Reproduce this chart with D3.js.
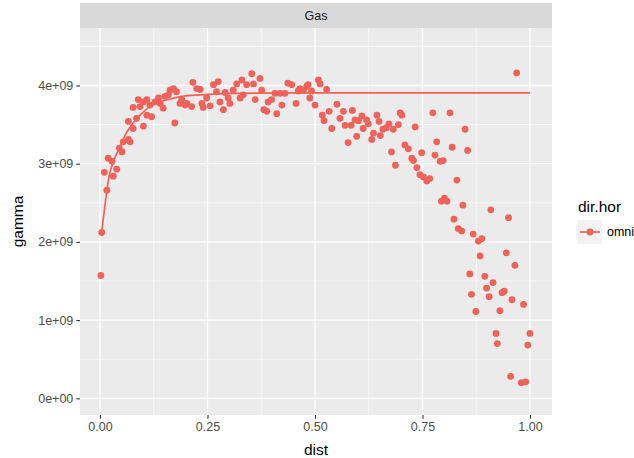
<!DOCTYPE html>
<html>
<head>
<meta charset="utf-8">
<script src="https://cdn.jsdelivr.net/npm/d3@7"></script>
<style>
  html, body { margin: 0; padding: 0; background: #ffffff; }
  svg { display: block; font-family: "Liberation Sans", Arial, Helvetica, sans-serif; }
</style>
</head>
<body>
<svg id="chart" width="634" height="458"></svg>
<script>
// Sample variogram of the "Gas" field: lag distance vs semivariance (gamma, in units of 1e9)
const dist = [
  0.002, 0.004, 0.010, 0.016, 0.019, 0.028, 0.031, 0.039, 0.045, 0.051,
  0.054, 0.066, 0.066, 0.070, 0.077, 0.077, 0.085, 0.089, 0.093, 0.101,
  0.101, 0.109, 0.109, 0.116, 0.120, 0.128, 0.136, 0.140, 0.147, 0.151,
  0.159, 0.163, 0.171, 0.174, 0.178, 0.186, 0.190, 0.198, 0.202, 0.213,
  0.216, 0.225, 0.233, 0.237, 0.240, 0.248, 0.256, 0.264, 0.271, 0.275,
  0.279, 0.287, 0.291, 0.298, 0.302, 0.310, 0.318, 0.326, 0.330, 0.333,
  0.341, 0.353, 0.357, 0.361, 0.372, 0.376, 0.381, 0.388, 0.391, 0.399,
  0.407, 0.411, 0.419, 0.423, 0.430, 0.437, 0.446, 0.456, 0.461, 0.465,
  0.473, 0.481, 0.484, 0.488, 0.492, 0.500, 0.508, 0.512, 0.517, 0.521,
  0.527, 0.533, 0.539, 0.551, 0.558, 0.566, 0.570, 0.577, 0.584, 0.587,
  0.593, 0.597, 0.601, 0.609, 0.612, 0.620, 0.624, 0.632, 0.636, 0.644,
  0.649, 0.652, 0.658, 0.666, 0.672, 0.678, 0.682, 0.687, 0.694, 0.698,
  0.702, 0.709, 0.717, 0.725, 0.729, 0.733, 0.737, 0.744, 0.748, 0.752,
  0.760, 0.767, 0.774, 0.779, 0.783, 0.791, 0.794, 0.798, 0.801, 0.807,
  0.814, 0.819, 0.823, 0.830, 0.833, 0.841, 0.844, 0.849, 0.855, 0.860,
  0.864, 0.868, 0.874, 0.880, 0.884, 0.888, 0.895, 0.899, 0.905, 0.909,
  0.914, 0.921, 0.924, 0.930, 0.935, 0.940, 0.945, 0.950, 0.955, 0.958,
  0.965, 0.969, 0.980, 0.985, 0.990, 0.995, 1.000
];
const gamma = [
  1.57, 2.12, 2.89, 2.66, 3.07, 3.03, 2.84, 2.93, 3.20, 3.15,
  3.28, 3.31, 3.54, 3.28, 3.45, 3.72, 3.58, 3.82, 3.73, 3.48,
  3.79, 3.82, 3.62, 3.75, 3.60, 3.79, 3.84, 3.77, 3.71, 3.86,
  3.88, 3.94, 3.96, 3.52, 3.92, 3.77, 3.82, 3.75, 3.77, 3.73,
  4.04, 3.96, 3.95, 3.77, 3.72, 3.84, 3.74, 4.01, 3.92, 4.05,
  3.79, 3.69, 3.91, 3.84, 3.77, 3.94, 4.02, 3.84, 4.07, 3.88,
  4.01, 4.15, 4.02, 3.82, 4.09, 3.94, 3.69, 3.67, 3.79, 3.82,
  3.90, 3.64, 3.90, 3.75, 3.90, 4.03, 4.01, 3.77, 3.93, 3.96,
  3.94, 3.99, 4.01, 3.84, 3.93, 3.75, 4.07, 4.02, 3.62, 3.55,
  3.95, 3.67, 3.45, 3.76, 3.58, 3.67, 3.49, 3.27, 3.49, 3.68,
  3.56, 3.35, 3.55, 3.61, 3.45, 3.56, 3.51, 3.31, 3.39, 3.62,
  3.54, 3.36, 3.44, 3.46, 3.51, 3.15, 3.44, 2.98, 3.50, 3.65,
  3.62, 3.24, 3.19, 3.07, 3.04, 3.47, 2.95, 2.86, 3.14, 2.83,
  2.78, 2.81, 3.65, 3.11, 3.28, 3.03, 2.52, 3.04, 2.56, 2.52,
  3.65, 3.21, 2.29, 2.79, 2.17, 2.14, 2.47, 3.44, 3.17, 1.59,
  1.33, 2.10, 1.11, 2.01, 1.82, 2.04, 1.56, 1.41, 1.30, 2.41,
  1.48, 0.83, 0.70, 1.12, 1.35, 1.37, 1.86, 2.31, 0.28, 1.26,
  1.70, 4.16, 0.20, 1.20, 0.21, 0.68, 0.83
];

// Fitted variogram model curve (nugget + exponential-type rise to the sill)
const modelDist  = [0.004, 0.022, 0.035, 0.047, 0.060, 0.077, 0.095, 0.116, 0.135, 0.155, 0.190, 0.233, 0.310, 0.500, 1.000];
const modelGamma = [2.12, 2.86, 3.08, 3.22, 3.38, 3.52, 3.63, 3.73, 3.78, 3.815, 3.86, 3.88, 3.90, 3.905, 3.905];

const xTicks = [0, 0.25, 0.5, 0.75, 1.0];
const xTickLabels = ["0.00", "0.25", "0.50", "0.75", "1.00"];
const xMinor = [0.125, 0.375, 0.625, 0.875];
const yTicks = [0, 1, 2, 3, 4];
const yTickLabels = ["0e+00", "1e+09", "2e+09", "3e+09", "4e+09"];
const yMinor = [0.5, 1.5, 2.5, 3.5, 4.5];

const panelTitle = "Gas";
const xTitle = "dist";
const yTitle = "gamma";
const legendTitle = "dir.hor";
const legendLabel = "omni";

const col = "#F1625B";

const svg = d3.select("#chart");
const panel = { left: 80, right: 552, top: 28, bottom: 415 };
const strip = { top: 3, bottom: 28 };

const x = d3.scaleLinear().domain([-0.0465, 1.0512]).range([panel.left, panel.right]);
const y = d3.scaleLinear().domain([-0.2136, 4.735]).range([panel.bottom, panel.top]);

// strip
svg.append("rect")
  .attr("x", panel.left).attr("y", strip.top)
  .attr("width", panel.right - panel.left).attr("height", strip.bottom - strip.top)
  .attr("fill", "#D9D9D9");
svg.append("text")
  .attr("x", (panel.left + panel.right) / 2).attr("y", (strip.top + strip.bottom) / 2)
  .attr("text-anchor", "middle").attr("dominant-baseline", "central")
  .attr("font-size", 12.5).attr("fill", "#1A1A1A")
  .text(panelTitle);

// panel background
svg.append("rect")
  .attr("x", panel.left).attr("y", panel.top)
  .attr("width", panel.right - panel.left).attr("height", panel.bottom - panel.top)
  .attr("fill", "#EBEBEB");

const grid = svg.append("g");
grid.selectAll(".xminor").data(xMinor).enter().append("line")
  .attr("x1", d => x(d)).attr("x2", d => x(d))
  .attr("y1", panel.top).attr("y2", panel.bottom)
  .attr("stroke", "#FFFFFF").attr("stroke-width", 0.6);
grid.selectAll(".yminor").data(yMinor).enter().append("line")
  .attr("y1", d => y(d)).attr("y2", d => y(d))
  .attr("x1", panel.left).attr("x2", panel.right)
  .attr("stroke", "#FFFFFF").attr("stroke-width", 0.6);
grid.selectAll(".xmajor").data(xTicks).enter().append("line")
  .attr("x1", d => x(d)).attr("x2", d => x(d))
  .attr("y1", panel.top).attr("y2", panel.bottom)
  .attr("stroke", "#FFFFFF").attr("stroke-width", 1.3);
grid.selectAll(".ymajor").data(yTicks).enter().append("line")
  .attr("y1", d => y(d)).attr("y2", d => y(d))
  .attr("x1", panel.left).attr("x2", panel.right)
  .attr("stroke", "#FFFFFF").attr("stroke-width", 1.3);

// axes
const xAxis = d3.axisBottom(x).tickValues(xTicks)
  .tickFormat((d, i) => xTickLabels[i]).tickSize(3.7).tickPadding(3);
const gx = svg.append("g").attr("transform", `translate(0,${panel.bottom})`).call(xAxis);
gx.select(".domain").remove();
gx.selectAll("line").attr("stroke", "#333333").attr("stroke-width", 1.1);
gx.selectAll("text").attr("font-size", 12.5).attr("fill", "#4D4D4D")
  .attr("font-family", "'Liberation Sans', Arial, sans-serif");

const yAxis = d3.axisLeft(y).tickValues(yTicks)
  .tickFormat((d, i) => yTickLabels[i]).tickSize(3.7).tickPadding(3);
const gy = svg.append("g").attr("transform", `translate(${panel.left},0)`).call(yAxis);
gy.select(".domain").remove();
gy.selectAll("line").attr("stroke", "#333333").attr("stroke-width", 1.1);
gy.selectAll("text").attr("font-size", 12.5).attr("fill", "#4D4D4D")
  .attr("font-family", "'Liberation Sans', Arial, sans-serif");

// axis titles
svg.append("text")
  .attr("x", (panel.left + panel.right) / 2).attr("y", 449)
  .attr("text-anchor", "middle").attr("dominant-baseline", "central")
  .attr("font-size", 15.5).attr("fill", "#000000")
  .text(xTitle);
svg.append("text")
  .attr("transform", `translate(17,${(panel.top + panel.bottom) / 2}) rotate(-90)`)
  .attr("text-anchor", "middle").attr("dominant-baseline", "central")
  .attr("font-size", 15.5).attr("fill", "#000000")
  .text(yTitle);

// model line
const modelData = modelDist.map((d, i) => ({ d, g: modelGamma[i] }));
const line = d3.line().x(p => x(p.d)).y(p => y(p.g)).curve(d3.curveMonotoneX);
svg.append("path").datum(modelData)
  .attr("d", line).attr("fill", "none")
  .attr("stroke", col).attr("stroke-width", 1.7);

// sample points
const pts = dist.map((d, i) => ({ d, g: gamma[i] }));
svg.append("g").selectAll("circle").data(pts).enter().append("circle")
  .attr("cx", p => x(p.d)).attr("cy", p => y(p.g))
  .attr("r", 3.4).attr("fill", col);

// legend
const lg = svg.append("g");
lg.append("text")
  .attr("x", 578).attr("y", 206)
  .attr("dominant-baseline", "central")
  .attr("font-size", 15.5).attr("fill", "#000000")
  .text(legendTitle);
lg.append("rect")
  .attr("x", 578).attr("y", 220).attr("width", 24).attr("height", 24)
  .attr("fill", "#F2F2F2");
lg.append("line")
  .attr("x1", 580).attr("x2", 600).attr("y1", 232).attr("y2", 232)
  .attr("stroke", col).attr("stroke-width", 1.7);
lg.append("circle").attr("cx", 590).attr("cy", 232).attr("r", 3.4).attr("fill", col);
lg.append("text")
  .attr("x", 607).attr("y", 232)
  .attr("dominant-baseline", "central")
  .attr("font-size", 12.5).attr("fill", "#000000")
  .text(legendLabel);
</script>
</body>
</html>
